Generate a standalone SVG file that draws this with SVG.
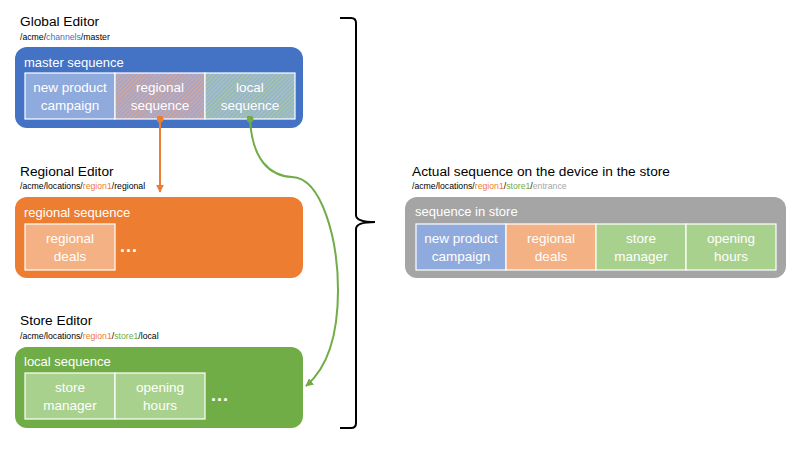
<svg xmlns="http://www.w3.org/2000/svg" width="800" height="450" viewBox="0 0 800 450">
<style>
text{font-family:"Liberation Sans",Arial,sans-serif}
.title{font-size:13.7px;fill:#000}
.path{font-size:8.7px;fill:#000}
.lbl{font-size:13px;fill:#fff}
.cell{font-size:13.5px;fill:#fff;text-anchor:middle}
.dots{font-size:18px;fill:#fff;font-weight:bold;letter-spacing:1px}
.c{stroke:#fff;stroke-width:1.2}
.conn{fill:none;stroke-width:2}
</style>
<defs>
<pattern id="hatchO" patternUnits="userSpaceOnUse" width="3" height="3" patternTransform="rotate(45)">
<rect width="3" height="3" fill="#A2A6CC"/>
<rect width="1.2" height="3" fill="#D8A796"/>
</pattern>
<pattern id="hatchG" patternUnits="userSpaceOnUse" width="3" height="3" patternTransform="rotate(45)">
<rect width="3" height="3" fill="#97B1D6"/>
<rect width="1.2" height="3" fill="#A6CA9E"/>
</pattern>
<marker id="arrO" viewBox="0 0 10 10" refX="9" refY="5" markerWidth="4" markerHeight="4" orient="auto"><path d="M0,0L10,5L0,10z" fill="#ED7D31"/></marker>
<marker id="arrG" viewBox="0 0 10 10" refX="9" refY="5" markerWidth="4" markerHeight="4" orient="auto"><path d="M0,0L10,5L0,10z" fill="#70AD47"/></marker>
<marker id="dotO" viewBox="0 0 10 10" refX="5" refY="5" markerWidth="3.5" markerHeight="3.5"><circle cx="5" cy="5" r="5" fill="#ED7D31"/></marker>
<marker id="dotG" viewBox="0 0 10 10" refX="5" refY="5" markerWidth="3.5" markerHeight="3.5"><circle cx="5" cy="5" r="5" fill="#70AD47"/></marker>
</defs>

<g id="global-editor">
<text class="title" x="20" y="26">Global Editor</text>
<text class="path" x="20" y="40">/acme/<tspan fill="#4472C4">channels</tspan>/master</text>
<rect x="15" y="47" width="288" height="81" rx="12" fill="#4472C4"/>
<text class="lbl" x="24" y="67">master sequence</text>
<rect class="c" x="25" y="73" width="90" height="46" fill="#8FAADC"/>
<rect class="c" x="115" y="73" width="90" height="46" fill="url(#hatchO)"/>
<rect class="c" x="205" y="73" width="90" height="46" fill="url(#hatchG)"/>
<text class="cell" x="70" y="92">new product</text>
<text class="cell" x="70" y="110">campaign</text>
<text class="cell" x="160" y="92">regional</text>
<text class="cell" x="160" y="110">sequence</text>
<text class="cell" x="250" y="92">local</text>
<text class="cell" x="250" y="110">sequence</text>
</g>

<g id="regional-editor">
<text class="title" x="20" y="176">Regional Editor</text>
<text class="path" x="20" y="189">/acme/locations/<tspan fill="#ED7D31">region1</tspan>/regional</text>
<rect x="15" y="197" width="288" height="81" rx="12" fill="#ED7D31"/>
<text class="lbl" x="24" y="217">regional sequence</text>
<rect class="c" x="25" y="224" width="90" height="46" fill="#F4B183"/>
<text class="cell" x="70" y="243">regional</text>
<text class="cell" x="70" y="261">deals</text>
<text class="dots" x="120" y="252">...</text>
</g>

<g id="store-editor">
<text class="title" x="20" y="325">Store Editor</text>
<text class="path" x="20" y="339">/acme/locations/<tspan fill="#ED7D31">region1</tspan>/<tspan fill="#70AD47">store1</tspan>/local</text>
<rect x="15" y="347" width="288" height="81" rx="12" fill="#70AD47"/>
<text class="lbl" x="24" y="366">local sequence</text>
<rect class="c" x="25" y="373" width="90" height="46" fill="#A9D18E"/>
<rect class="c" x="115" y="373" width="90" height="46" fill="#A9D18E"/>
<text class="cell" x="70" y="392">store</text>
<text class="cell" x="70" y="410">manager</text>
<text class="cell" x="160" y="392">opening</text>
<text class="cell" x="160" y="410">hours</text>
<text class="dots" x="211" y="401">...</text>
</g>

<g id="store-device">
<text class="title" x="412" y="176">Actual sequence on the device in the store</text>
<text class="path" x="412" y="189">/acme/locations/<tspan fill="#ED7D31">region1</tspan>/<tspan fill="#70AD47">store1</tspan>/<tspan fill="#A5A5A5">entrance</tspan></text>
<rect x="405" y="197" width="381" height="81" rx="12" fill="#A5A5A5"/>
<text class="lbl" x="415" y="216">sequence in store</text>
<rect class="c" x="416" y="224" width="90" height="46" fill="#8FAADC"/>
<rect class="c" x="506" y="224" width="90" height="46" fill="#F4B183"/>
<rect class="c" x="596" y="224" width="90" height="46" fill="#A9D18E"/>
<rect class="c" x="686" y="224" width="90" height="46" fill="#A9D18E"/>
<text class="cell" x="461" y="243">new product</text>
<text class="cell" x="461" y="261">campaign</text>
<text class="cell" x="551" y="243">regional</text>
<text class="cell" x="551" y="261">deals</text>
<text class="cell" x="641" y="243">store</text>
<text class="cell" x="641" y="261">manager</text>
<text class="cell" x="731" y="243">opening</text>
<text class="cell" x="731" y="261">hours</text>
</g>

<g id="brace">
<path d="M340,18 L351,18 Q356,18 356,23 L356,215 Q356,222 375,222 Q356,222 356,229 L356,423 Q356,428 351,428 L340,428" fill="none" stroke="#000" stroke-width="2"/>
</g>

<g id="connectors">
<path class="conn" d="M160,119 L160,192" stroke="#ED7D31" marker-start="url(#dotO)" marker-end="url(#arrO)"/>
<path class="conn" d="M250,119 C252,160 270,176 292,177 C322,178 338,240 338,290 C338,340 325,370 306,386" stroke="#70AD47" marker-start="url(#dotG)" marker-end="url(#arrG)"/>
</g>
</svg>
